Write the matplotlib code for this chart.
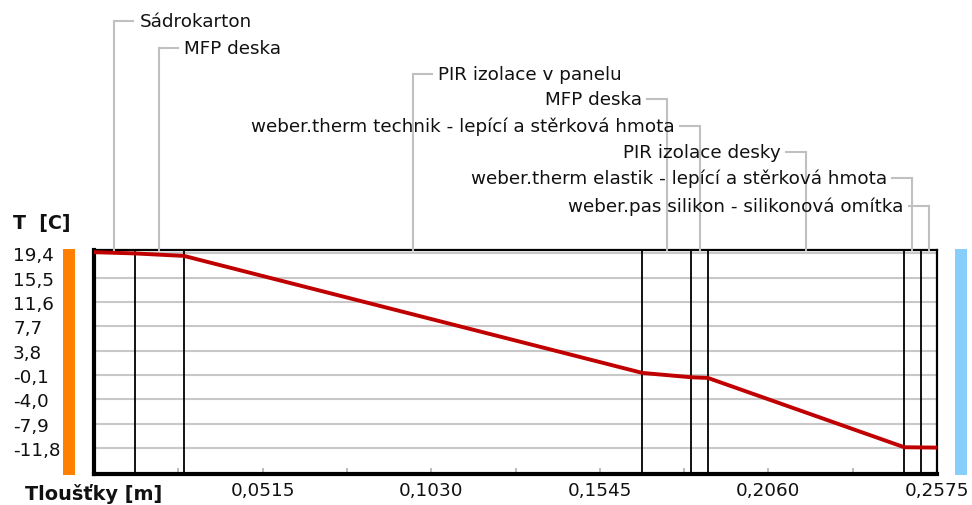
import matplotlib
matplotlib.use("Agg")
import matplotlib.pyplot as plt
from matplotlib.lines import Line2D
from matplotlib.patches import Rectangle

# ---- data ----
layer_names = [
    "Sádrokarton",
    "MFP deska",
    "PIR izolace v panelu",
    "MFP deska",
    "weber.therm technik - lepící a stěrková hmota",
    "PIR izolace desky",
    "weber.therm elastik - lepící a stěrková hmota",
    "weber.pas silikon - silikonová omítka",
]
layer_bounds = [0.0, 0.0125, 0.0275, 0.1675, 0.1825, 0.1875, 0.2475, 0.2525, 0.2575]
label_side = ["left", "left", "left", "right", "right", "right", "right", "right"]

profile_x = [0.0, 0.0125, 0.0275, 0.1675, 0.1825, 0.1875, 0.2475, 0.2525, 0.2575]
profile_t = [19.6, 19.4, 19.0, 0.25, -0.45, -0.55, -11.66, -11.69, -11.72]

ytick_vals = [19.4, 15.5, 11.6, 7.7, 3.8, -0.1, -4.0, -7.9, -11.8]
ytick_labels = ["19,4", "15,5", "11,6", "7,7", "3,8", "-0,1", "-4,0", "-7,9", "-11,8"]
xtick_vals = [0.0515, 0.1030, 0.1545, 0.2060, 0.2575]
xtick_labels = ["0,0515", "0,1030", "0,1545", "0,2060", "0,2575"]
xminor_vals = [0.02575, 0.07725, 0.12875, 0.18025, 0.23175]

W, H = 972, 506
fig = plt.figure(figsize=(W / 100, H / 100), dpi=100)
fig.patch.set_facecolor("white")

def fx(px):
    return px / W

def fy(py):
    return 1 - py / H

L, R, T, B = 94, 937, 251, 475
ax = fig.add_axes([fx(L), fy(B), fx(R) - fx(L), fy(T) - fy(B)])
ax.set_xlim(0, 0.2575)
ax.set_ylim(-15.95, 19.95)

FS = 13.2
TXT = "#111111"
grid_c = "#c8c8c8"

# gridlines
for v in ytick_vals:
    ax.axhline(v, color=grid_c, lw=1.5, zorder=1)

# layer boundaries
for b in layer_bounds[1:-1]:
    ax.axvline(b, color="black", lw=1.3, zorder=2)

# temperature profile
ax.plot(profile_x, profile_t, color="#c00000", lw=2.8, zorder=3, solid_joinstyle="miter")

# spines
for s in ["top", "right"]:
    ax.spines[s].set_linewidth(1.6)
for s in ["left", "bottom"]:
    ax.spines[s].set_linewidth(3.0)

# ticks
ax.set_yticks(ytick_vals)
ax.set_yticklabels(ytick_labels, fontsize=FS, ha="left")
ax.tick_params(axis="y", length=0, pad=(L - 13) * 0.72)
ax.set_xticks(xtick_vals)
ax.set_xticklabels(xtick_labels, fontsize=FS)
ax.set_xticks(xminor_vals, minor=True)
ax.tick_params(axis="x", which="both", direction="in", length=4, width=1.2,
               color="#b0b0b0", pad=5)
for lab in ax.get_xticklabels() + ax.get_yticklabels():
    lab.set_color(TXT)

# axis titles
fig.text(fx(13), fy(224), "T  [C]", fontsize=FS + 0.5, fontweight="bold", va="center",
         ha="left", color=TXT)
fig.text(fx(25), fy(494), "Tloušťky [m]", fontsize=FS + 0.7, fontweight="bold",
         va="center", ha="left", color=TXT)

# side color bars
fig.add_artist(Rectangle((fx(63), fy(476)), fx(12), fy(250) - fy(476),
                         transform=fig.transFigure, color="#ff8000", lw=0))
fig.add_artist(Rectangle((fx(955), fy(476)), fx(12), fy(250) - fy(476),
                         transform=fig.transFigure, color="#88cefb", lw=0))

# layer labels with leader lines
label_y = [22, 49, 75, 100, 127, 153, 179, 207]
lead_c = "#c0c0c0"
fig.canvas.draw()
for i, name in enumerate(layer_names):
    mid = 0.5 * (layer_bounds[i] + layer_bounds[i + 1])
    px = ax.transData.transform((mid, 0))[0]
    py = label_y[i]
    fig.add_artist(Line2D([fx(px), fx(px)], [fy(T), fy(py)], transform=fig.transFigure,
                          color=lead_c, lw=1.5))
    if label_side[i] == "left":
        fig.add_artist(Line2D([fx(px), fx(px + 19)], [fy(py), fy(py)],
                              transform=fig.transFigure, color=lead_c, lw=1.5))
        fig.text(fx(px + 25), fy(py), name, fontsize=FS, ha="left", va="center",
                 color=TXT)
    else:
        fig.add_artist(Line2D([fx(px), fx(px - 20)], [fy(py), fy(py)],
                              transform=fig.transFigure, color=lead_c, lw=1.5))
        fig.text(fx(px - 25), fy(py), name, fontsize=FS, ha="right", va="center",
                 color=TXT)

fig.savefig("out.png", dpi=100)
